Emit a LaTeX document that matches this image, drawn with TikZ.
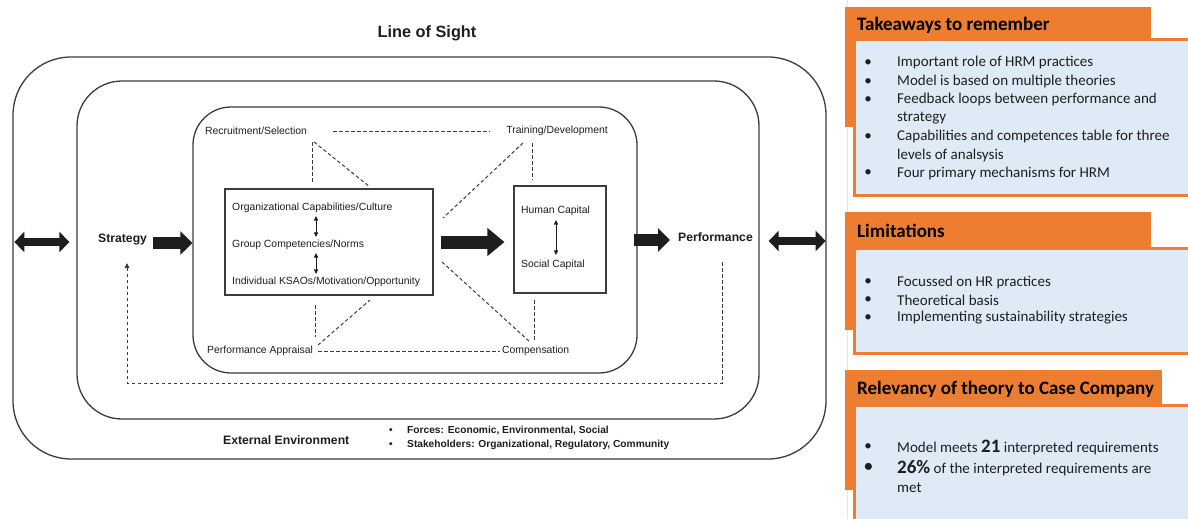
\documentclass[tikz,border=0pt]{standalone}
\usepackage{fontspec}
\setmainfont{Liberation Sans}
\newfontfamily\calibri{Carlito}
\usetikzlibrary{arrows.meta,calc}

\definecolor{lineGrey}{HTML}{3C3C3C}
\definecolor{inkGrey}{HTML}{1E1E1E}
\definecolor{panelOrange}{HTML}{ED7D31}
\definecolor{panelBlue}{HTML}{DEEBF7}

\tikzset{
  frame/.style={draw=lineGrey, line width=1.3pt, inner sep=0pt},
  box/.style={draw=lineGrey, line width=1.1pt, inner sep=0pt},
  lbl/.style={inner sep=0pt, text=inkGrey, font=\fontsize{10.4}{12}\selectfont},
  boldlbl/.style={inner sep=0pt, text=inkGrey, font=\fontsize{12.2}{14}\selectfont\bfseries},
  envlbl/.style={inner sep=0pt, text=inkGrey, font=\fontsize{10.2}{12}\selectfont\bfseries},
  link/.style={draw=lineGrey, line width=1pt, dash pattern=on 3.5pt off 2.5pt},
  pair/.style={draw=inkGrey, line width=0.9pt, {Triangle[length=4.5pt,width=4pt]}-{Triangle[length=4.5pt,width=4pt]}},
  bigarrow/.style={draw=inkGrey, line width=12pt, -{Triangle[length=12pt,width=23pt]}},
  midarrow/.style={draw=inkGrey, line width=13pt, -{Triangle[length=17pt,width=27pt]}},
  twoway/.style={draw=inkGrey, line width=8pt, {Triangle[length=10pt,width=20pt]}-{Triangle[length=10pt,width=20pt]}},
  header/.style={fill=panelOrange},
  panel/.style={fill=panelBlue, draw=panelOrange, line width=3pt},
  htext/.style={inner sep=0pt, anchor=west, text=black, font=\calibri\fontsize{19}{22}\selectfont\bfseries},
  btext/.style={inner sep=0pt, anchor=west, text=inkGrey, font=\calibri\fontsize{15}{18}\selectfont},
  dot/.style={inner sep=0pt, text=inkGrey, font=\calibri\fontsize{15}{18}\selectfont}
}

\begin{document}
\begin{tikzpicture}[x=1pt,y=-1pt]
\useasboundingbox (0,0) rectangle (1188,519);
\fill[white] (0,0) rectangle (1188,519);

% ---------- model: nested environments ----------
\node[boldlbl, font=\fontsize{16.3}{19}\selectfont\bfseries] (title) at (427,33) {Line of Sight};

\node[frame, rounded corners=58pt, minimum width=813pt, minimum height=402pt] (outer) at (419.5,258) {};
\node[frame, rounded corners=45pt, minimum width=682pt, minimum height=338pt] (middle) at (418,250) {};
\node[frame, rounded corners=38pt, minimum width=444pt, minimum height=266pt] (inner) at (415,240) {};

% capability levels
\node[box, minimum width=208pt, minimum height=106pt] (caps) at (329,242) {};
\node[lbl, anchor=west] (orgcap) at (232,208) {Organizational Capabilities/Culture};
\node[lbl, anchor=west] (grp) at (232,245) {Group Competencies/Norms};
\node[lbl, anchor=west] (ind) at (232,282) {Individual KSAOs/Motivation/Opportunity};
\coordinate (capsAxis) at (316,0);
\draw[pair] ($(orgcap.south -| capsAxis)+(0,3)$) -- ($(grp.north -| capsAxis)+(0,-3)$);
\draw[pair] ($(grp.south -| capsAxis)+(0,3)$) -- ($(ind.north -| capsAxis)+(0,-3)$);

% capital box
\node[box, minimum width=92pt, minimum height=107pt] (hum) at (560,239.5) {};
\node[lbl, anchor=west] (hc) at (521,211) {Human Capital};
\node[lbl, anchor=west] (sc) at (521,265) {Social Capital};
\coordinate (humAxis) at (556,0);
\draw[pair] ($(hc.south -| humAxis)+(0,4)$) -- ($(sc.north -| humAxis)+(0,-5)$);

% HR practices
\node[lbl, anchor=west] (rs) at (205,131) {Recruitment/Selection};
\node[lbl, anchor=east] (td) at (608,131) {Training/Development};
\node[lbl, anchor=west] (pa) at (207,351) {Performance Appraisal};
\node[lbl, anchor=west] (cp) at (502,351) {Compensation};

\coordinate (rsV) at (312,142);   \coordinate (capsTopL) at (312,182);
\coordinate (rsD) at (314,142);   \coordinate (capsTopR) at (370,187);
\coordinate (tdD) at (523,143);   \coordinate (capsRightT) at (443,218);
\coordinate (tdV) at (532,143);   \coordinate (humTop) at (532,180);
\coordinate (capsBotL) at (315,305); \coordinate (paV) at (315,337);
\coordinate (paD) at (318,345);   \coordinate (capsBotR) at (370,300);
\coordinate (capsRightB) at (442,262); \coordinate (cpD) at (530,342);
\coordinate (humBot) at (534,300); \coordinate (cpV) at (534,340);

\draw[link] ([xshift=26pt]rs.east) -- ([xshift=-16pt]td.west);
\draw[link] ([xshift=5pt]pa.east) -- ([xshift=-2pt]cp.west);
\draw[link] (rsV) -- (capsTopL);
\draw[link] (rsD) -- (capsTopR);
\draw[link] (tdD) -- (capsRightT);
\draw[link] (tdV) -- (humTop);
\draw[link] (capsBotL) -- (paV);
\draw[link] (paD) -- (capsBotR);
\draw[link] (capsRightB) -- (cpD);
\draw[link] (humBot) -- (cpV);

% strategy -> performance
\node[boldlbl, anchor=west] (strat) at (98,240) {Strategy};
\node[boldlbl, anchor=west] (perf) at (678,237) {Performance};

\draw[bigarrow] ([xshift=6pt,yshift=-3pt]strat.east) -- ([yshift=-3pt]strat.east -| inner.west);
\draw[midarrow] ([xshift=7pt]caps.east) -- ([xshift=-9pt]caps.east -| hum.west);
\draw[bigarrow] ([xshift=-4pt,yshift=-3pt]perf.west -| inner.east) -- ([xshift=-8pt,yshift=-3pt]perf.west);

\draw[twoway] ([xshift=2pt,yshift=-2pt]strat.west -| outer.west) -- ([xshift=-7pt,yshift=-2pt]strat.west -| middle.west);
\draw[twoway] ([xshift=9pt,yshift=-4pt]perf.east -| middle.east) -- ([xshift=-1pt,yshift=-4pt]perf.east -| outer.east);

% feedback loop
\coordinate (fbOut) at (722,262);
\coordinate (fbIn) at (127,263);
\draw[link, -{Triangle[length=5pt,width=4.5pt]}] (fbOut) -- ++(0,121) -| (fbIn);

% external environment
\node[boldlbl, anchor=west] (env) at (223,440) {External Environment};
\node[envlbl] (b1) at (391,431) {•};
\node[envlbl] (b2) at (391,445) {•};
\node[envlbl, anchor=west] (forces) at (407,431) {Forces: Economic, Environmental, Social};
\node[envlbl, anchor=west] (stake) at (407,445) {Stakeholders: Organizational, Regulatory, Community};

% ---------- summary panels ----------
\draw[black!10, line width=0.6pt] (847,0) -- (847,519);

% takeaways
\fill[header] (845,7) rectangle (1151,127);
\draw[panel] (854.5,39.5) rectangle (1200,195.5);
\node[htext] (h1) at (857,25) {Takeaways to remember};
\foreach \y/\n in {63/1,82/2,100/3,137/4,173/5}
  \node[dot] (d1\n) at (868,\y) {•};
\node[btext] (t11) at (897,63) {Important role of HRM practices};
\node[btext] (t12) at (897,82) {Model is based on multiple theories};
\node[btext] (t13) at (897,100) {Feedback loops between performance and};
\node[btext] (t13b) at (897,118) {strategy};
\node[btext] (t14) at (897,137) {Capabilities and competences table for three};
\node[btext] (t14b) at (897,155) {levels of analsysis};
\node[btext] (t15) at (897,173) {Four primary mechanisms for HRM};

% limitations
\fill[header] (845,212) rectangle (1151,330);
\draw[panel] (854.5,248.5) rectangle (1200,353.5);
\node[htext] (h2) at (857,231) {Limitations};
\foreach \y/\n in {282/1,300/2,318/3}
  \node[dot] (d2\n) at (868,\y) {•};
\node[btext] (t21) at (897,282) {Focussed on HR practices};
\node[btext] (t22) at (897,300) {Theoretical basis};
\node[btext] (t23) at (897,318) {Implementing sustainability strategies};

% relevancy
\fill[header] (845,370) rectangle (1162,490);
\draw[panel] (854.5,405.5) rectangle (1200,540);
\node[htext] (h3) at (857,389) {Relevancy of theory to Case Company};
\node[dot] (d31) at (868,447) {•};
\node[dot, font=\calibri\fontsize{16.5}{20}\selectfont\bfseries] (d32) at (868.5,467) {•};
\node[btext] (t31) at (897,447) {Model meets {\fontsize{19}{22}\selectfont\bfseries 21} interpreted requirements};
\node[btext] (t32) at (897,468) {{\fontsize{19}{22}\selectfont\bfseries 26\%} of the interpreted requirements are};
\node[btext] (t32b) at (897,488) {met};
\end{tikzpicture}
\end{document}
